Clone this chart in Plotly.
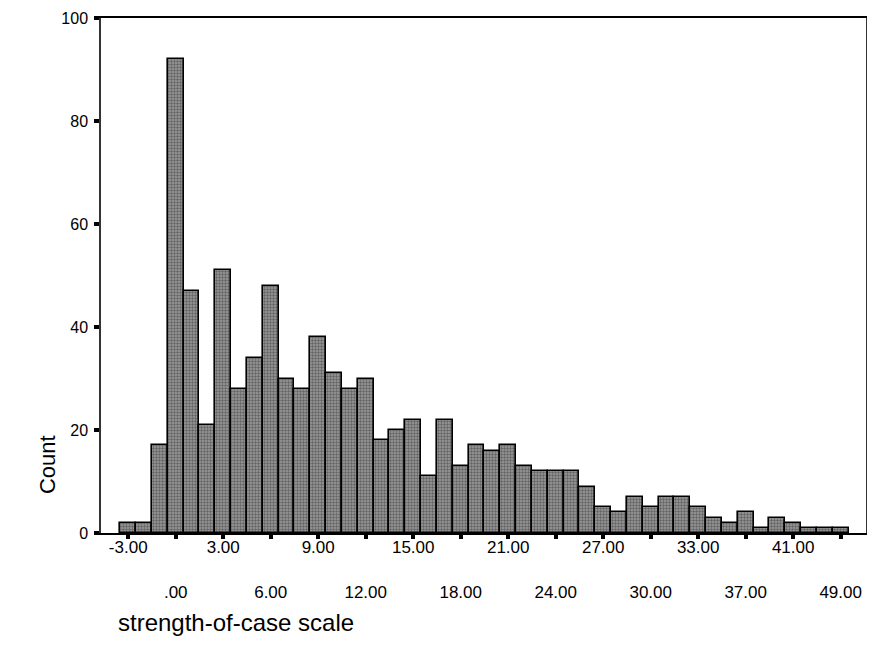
import plotly.graph_objects as go

categories = list(range(-3, 34)) + [34, 35, 37, 38, 40, 41, 43, 45, 49]
counts = [2, 2, 17, 92, 47, 21, 51, 28, 34, 48,
          30, 28, 38, 31, 28, 30, 18, 20, 22, 11,
          22, 13, 17, 16, 17, 13, 12, 12, 12, 9,
          5, 4, 7, 5, 7, 7, 5, 3, 2, 4,
          1, 3, 2, 1, 1, 1]
y_ticks = [0, 20, 40, 60, 80, 100]


def fmt(v):
    s = f"{v:.2f}"
    if s.startswith("0."):
        s = s[1:]
    return s


labels = [fmt(v) for v in categories]
tick_vals = labels[::3]
tick_text = [t if i % 2 == 0 else "<br><br>" + t for i, t in enumerate(tick_vals)]

FONT = "Liberation Sans, Arial, sans-serif"

fig = go.Figure()
fig.add_trace(go.Bar(
    x=labels,
    y=counts,
    marker=dict(
        color="#7c7c7c",
        line=dict(color="black", width=1.6),
        pattern=dict(shape=".", fgcolor="#2a2a2a", bgcolor="#9c9c9c", size=3, solidity=0.5),
    ),
    showlegend=False,
))

# The page body adds an 8px margin, so the figure is sized to fit the window.
fig.update_layout(
    width=859,
    height=650,
    margin=dict(l=93, r=1, t=10, b=125),
    paper_bgcolor="white",
    plot_bgcolor="white",
    bargap=0,
    font=dict(family=FONT, size=17, color="black"),
    xaxis=dict(
        type="category",
        categoryorder="array",
        categoryarray=labels,
        range=[-1.72, 46.6],
        tickmode="array",
        tickvals=tick_vals,
        ticktext=tick_text,
        ticks="outside",
        ticklen=4,
        tickwidth=4,
        tickcolor="black",
        ticklabelstandoff=-6,
        ticklabeloverflow="allow",
        showline=True,
        linecolor="black",
        linewidth=2,
        mirror=True,
        showgrid=False,
        zeroline=False,
        automargin=False,
        tickfont=dict(size=17),
    ),
    yaxis=dict(
        range=[0, 100],
        tickmode="array",
        tickvals=y_ticks,
        ticks="outside",
        ticklen=5,
        tickwidth=4,
        tickcolor="black",
        ticklabelstandoff=3,
        ticklabeloverflow="allow",
        showline=True,
        linecolor="#333333",
        linewidth=1.5,
        mirror=True,
        showgrid=False,
        zeroline=False,
        automargin=False,
        tickfont=dict(size=16),
    ),
    annotations=[
        dict(text="Count", xref="paper", yref="paper", x=-0.0705, y=0.132,
             xanchor="center", yanchor="middle", textangle=-90, showarrow=False,
             font=dict(size=22)),
        dict(text="strength-of-case scale", xref="paper", yref="paper", x=0.02, y=-0.173,
             xanchor="left", yanchor="middle", showarrow=False,
             font=dict(size=24)),
    ],
)

fig.write_html("out.html")
